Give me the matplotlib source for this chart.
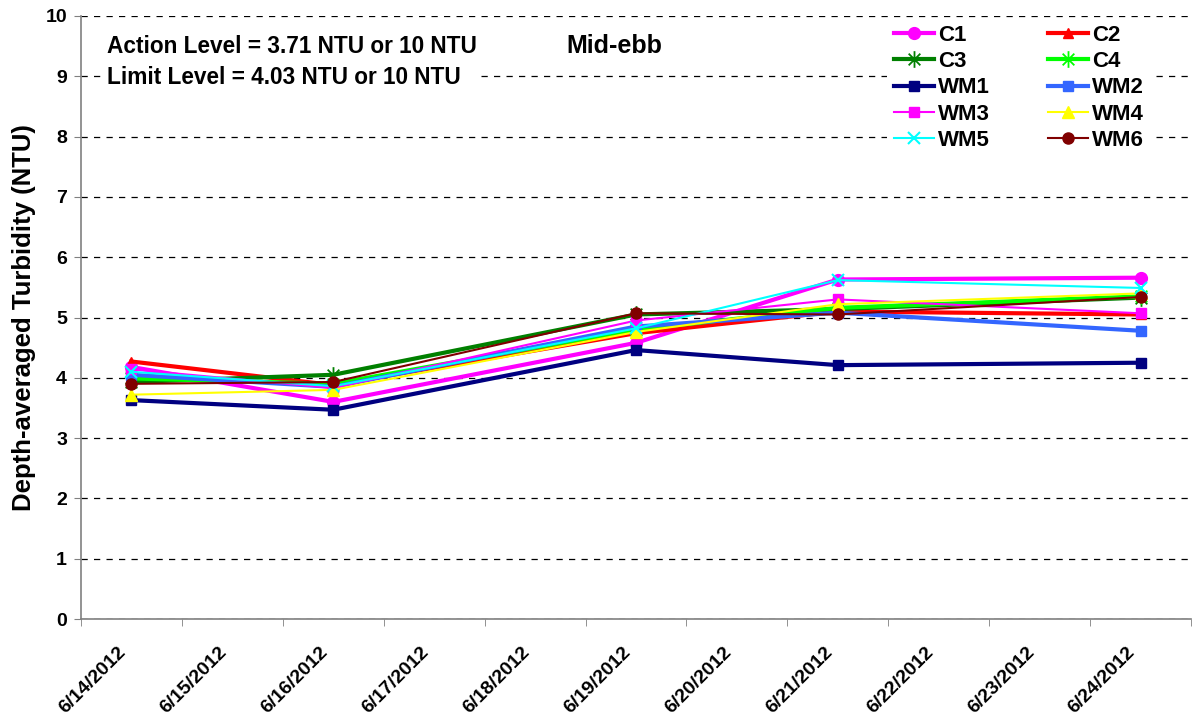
"""Mid-ebb depth-averaged turbidity, June 2012."""

import matplotlib

matplotlib.use("Agg")
import matplotlib.pyplot as plt
import matplotlib.transforms as mtransforms
import pandas as pd
from matplotlib.path import Path

plt.rcParams["font.family"] = ["Liberation Sans", "DejaVu Sans"]
plt.rcParams["font.weight"] = "bold"

# axis categories: one per day
axis_days = pd.date_range("2012-06-14", "2012-06-24", freq="D")
tick_labels = [f"{d.month}/{d.day}/{d.year}" for d in axis_days]

# sampling days
sample_dates = pd.to_datetime(["2012-06-14", "2012-06-16", "2012-06-19", "2012-06-21", "2012-06-24"])

series_names = ["C1", "C2", "C3", "C4", "WM1", "WM2", "WM3", "WM4", "WM5", "WM6"]
c1 = [4.18, 3.60, 4.58, 5.63, 5.66]
c2 = [4.27, 3.88, 4.74, 5.10, 5.05]
c3 = [3.93, 4.05, 5.05, 5.14, 5.33]
c4 = [3.99, 3.90, 4.80, 5.16, 5.35]
wm1 = [3.63, 3.47, 4.46, 4.21, 4.25]
wm2 = [4.05, 3.85, 4.85, 5.08, 4.78]
wm3 = [4.14, 3.83, 4.95, 5.30, 5.07]
wm4 = [3.72, 3.80, 4.76, 5.22, 5.40]
wm5 = [4.10, 3.86, 4.82, 5.62, 5.49]
wm6 = [3.90, 3.93, 5.07, 5.05, 5.34]
values = [c1, c2, c3, c4, wm1, wm2, wm3, wm4, wm5, wm6]

# excel-like star: vertical bar plus an x
star = Path(
    [(0, -1), (0, 1), (-0.7, -0.7), (0.7, 0.7), (-0.7, 0.7), (0.7, -0.7)],
    [Path.MOVETO, Path.LINETO] * 3,
)

styles = {
    "C1": dict(color="#FF00FF", marker="o", lw=3.0, ms=8.5),
    "C2": dict(color="#FF0000", marker="^", lw=3.0, ms=7),
    "C3": dict(color="#008000", marker=star, lw=3.0, ms=12, mew=1.3),
    "C4": dict(color="#00FF00", marker=star, lw=3.0, ms=12, mew=1.3),
    "WM1": dict(color="#000080", marker="s", lw=3.0, ms=7),
    "WM2": dict(color="#3366FF", marker="s", lw=3.0, ms=7),
    "WM3": dict(color="#FF00FF", marker="s", lw=1.5, ms=7),
    "WM4": dict(color="#FFFF00", marker="^", lw=1.5, ms=8),
    "WM5": dict(color="#00FFFF", marker="x", lw=1.5, ms=8, mew=1.5),
    "WM6": dict(color="#800000", marker="o", lw=1.5, ms=8),
}

x = [(d - axis_days[0]).days for d in sample_dates]

fig = plt.figure(figsize=(11.92, 7.2), dpi=100)
ax = fig.add_axes([81 / 1192, 1 - 619 / 720, 1110 / 1192, 603 / 720])

handles = []
for name, y in zip(series_names, values):
    st = styles[name]
    (h,) = ax.plot(
        x, y, color=st["color"], lw=st["lw"], marker=st["marker"],
        ms=st["ms"], mew=st.get("mew", 1.0), mec=st["color"], mfc=st["color"], label=name,
    )
    handles.append(h)

ax.set_xlim(-0.5, len(axis_days) - 0.5)
ax.set_ylim(0, 10)
ax.set_yticks(range(0, 11))
ax.set_yticklabels([str(v) for v in range(0, 11)], fontsize=14, fontweight="bold")
ax.set_xticks(range(len(axis_days)))
ax.set_xticklabels(tick_labels, rotation=45, ha="right", rotation_mode="anchor",
                   fontsize=14, fontweight="bold")
ax.set_xticks([i - 0.5 for i in range(len(axis_days) + 1)], minor=True)
ax.tick_params(axis="x", which="major", length=0, pad=16)
ax.tick_params(axis="x", which="minor", length=5, color="#808080")
ax.tick_params(axis="y", length=5, color="#808080", pad=5)
# nudge the rotated date labels (after tick_params, which resets transforms)
shift = mtransforms.ScaledTranslation(-0.14, -0.025, fig.dpi_scale_trans)
for lbl in ax.xaxis.get_majorticklabels():
    lbl.set_transform(lbl.get_transform() + shift)

ax.grid(True, axis="y", color="black", lw=0.9, linestyle=(0, (5, 5)))
for s in ["top", "right"]:
    ax.spines[s].set_visible(False)
for s in ["left", "bottom"]:
    ax.spines[s].set_color("#808080")
    ax.spines[s].set_linewidth(1.2)

ax.set_ylabel("Depth-averaged Turbidity (NTU)", fontsize=18.5, fontweight="bold", labelpad=7)

fig.text(107 / 1192, 1 - 62 / 720,
         "Action Level = 3.71 NTU or 10 NTU\nLimit Level = 4.03 NTU or 10 NTU",
         fontsize=16.3, fontweight="bold", va="center", ha="left", linespacing=1.4,
         bbox=dict(facecolor="white", edgecolor="none", pad=1))
fig.text(614 / 1192, 1 - 46 / 720, "Mid-ebb", fontsize=18, fontweight="bold",
         va="center", ha="center")

order = handles[0::2] + handles[1::2]
leg = ax.legend(order, [h.get_label() for h in order], ncol=2,
                loc="upper left", bbox_to_anchor=(876 / 1192, 1 - 7 / 720),
                bbox_transform=fig.transFigure, frameon=True, fancybox=False,
                edgecolor="none", facecolor="white", framealpha=1,
                prop=dict(size=16, weight="bold"), handlelength=1.8,
                handletextpad=0.2, columnspacing=2.6, labelspacing=0.24,
                borderpad=0.3)

fig.savefig("out.png", dpi=100)
